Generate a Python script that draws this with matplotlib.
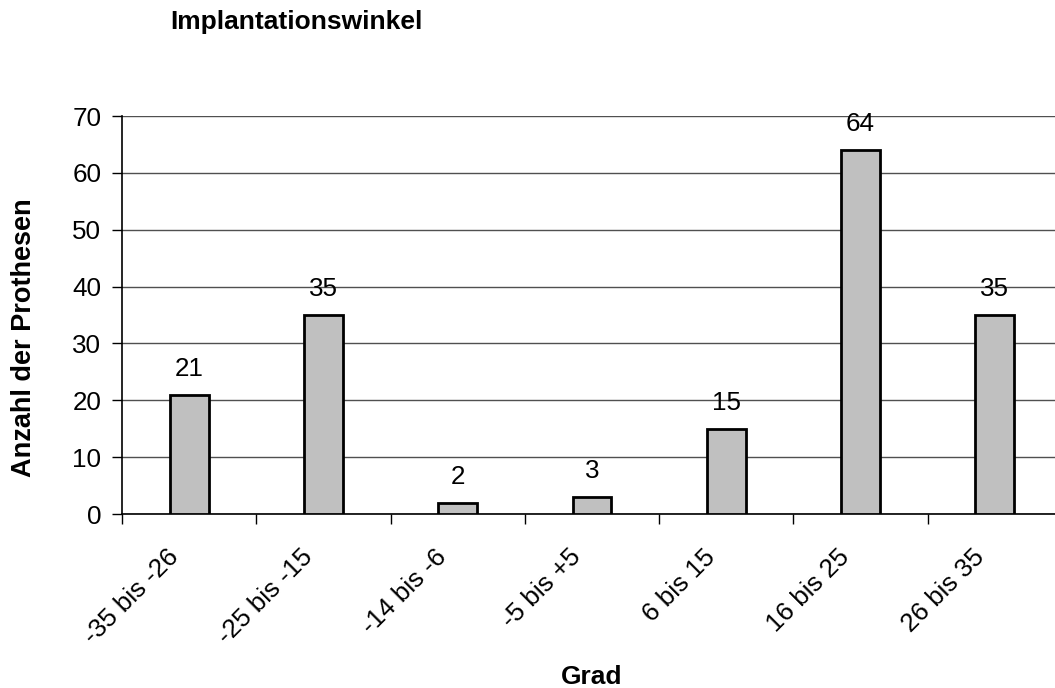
import matplotlib
matplotlib.use("Agg")
import matplotlib.pyplot as plt
import matplotlib.transforms as mtransforms
import numpy as np

categories = ["-35 bis -26", "-25 bis -15", "-14 bis -6", "-5 bis +5", "6 bis 15", "16 bis 25", "26 bis 35"]
values = [21, 35, 2, 3, 15, 64, 35]

plt.rcParams['font.family'] = ['Liberation Sans', 'DejaVu Sans']
FS = 18.7

fig = plt.figure(figsize=(10.55, 6.88), dpi=100)
ax = fig.add_axes([122/1055, (688-514)/688, 940/1055, (514-116)/688])

x = np.arange(len(categories))
ax.bar(x, values, width=0.29, color='#c0c0c0', edgecolor='black', linewidth=2, zorder=3)

ax.set_xlim(-0.5, len(categories) - 0.5)
ax.set_ylim(0, 70)
ax.set_yticks(range(0, 71, 10))
ax.yaxis.grid(True, color='#505050', linewidth=1, zorder=0)
ax.set_axisbelow(True)

ax.set_xticks(np.arange(-0.5, len(categories), 1.0))
ax.set_xticklabels([])
ax.set_xticks(x, minor=True)
ax.set_xticklabels(categories, minor=True, rotation=45, ha='right', rotation_mode='anchor', fontsize=FS)
ax.tick_params(axis='x', which='minor', length=0, pad=22)
ax.tick_params(axis='x', which='major', length=7, width=1, direction='out')
ax.tick_params(axis='y', length=7, width=1, direction='out', labelsize=FS, pad=8)
off = mtransforms.ScaledTranslation(-23/100, 0, fig.dpi_scale_trans)
for lab in ax.get_xticklabels(minor=True):
    lab.set_transform(lab.get_transform() + off)

for s in ['top', 'right']:
    ax.spines[s].set_visible(False)
for s in ['left', 'bottom']:
    ax.spines[s].set_linewidth(1.2)

for xi, v in zip(x, values):
    ax.annotate(str(v), (xi, v), xytext=(0, 10), textcoords='offset points',
                ha='center', va='bottom', fontsize=FS)

ax.set_ylabel("Anzahl der Prothesen", fontsize=19.5, fontweight='bold')
ax.yaxis.set_label_coords((37 - 122) / 940, (514 - 338) / 398)
fig.text(592/1055, 1 - 677/688, "Grad", ha='center', va='center', fontsize=19, fontweight='bold')
fig.text(170/1055, 1 - 22/688, "Implantationswinkel", ha='left', va='center', fontsize=19, fontweight='bold')

fig.savefig("out.png", dpi=100)
